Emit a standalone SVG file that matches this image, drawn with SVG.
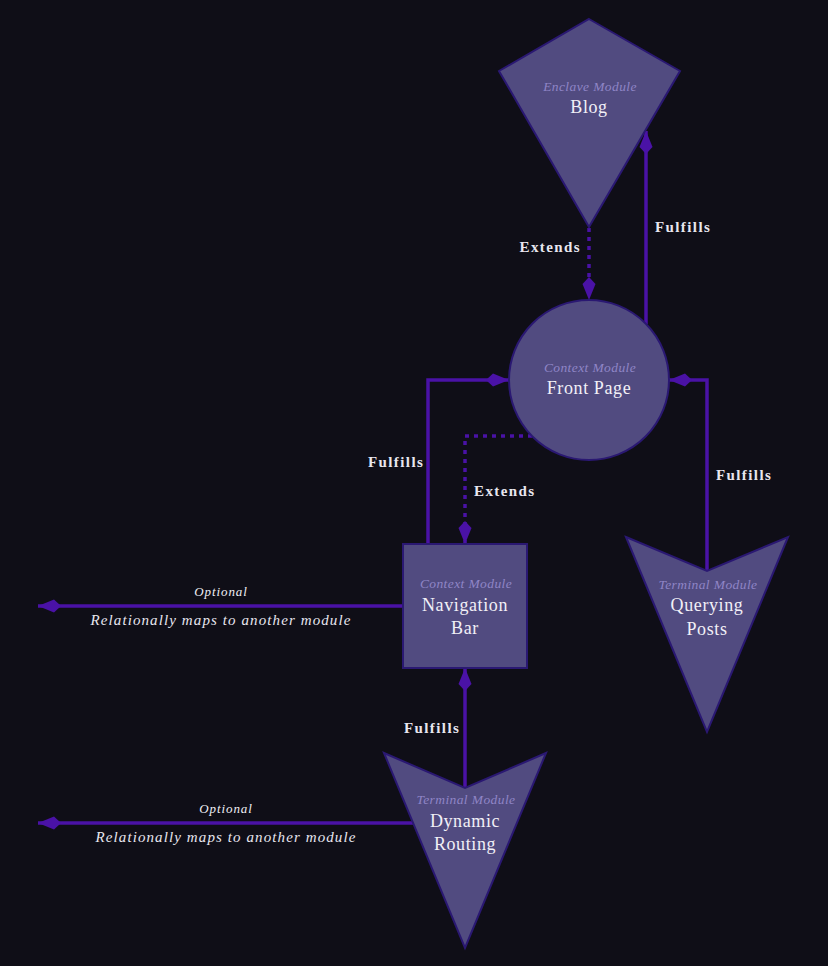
<svg xmlns="http://www.w3.org/2000/svg" width="828" height="966" viewBox="0 0 828 966">
  <defs>
    <marker id="tip" markerUnits="userSpaceOnUse" markerWidth="26" markerHeight="16" refX="23" refY="0" viewBox="-1 -8 26 16" orient="auto">
      <path d="M0,0 L7,-6.5 L23,0 L7,6.5 Z" fill="#4a12a6"/>
    </marker>
    <style>
      .node { fill: #514b80; stroke: #2a1872; stroke-width: 2; }
      .edge { fill: none; stroke: #4a12a6; stroke-width: 3.5; marker-end: url(#tip); }
      .dot { stroke-dasharray: 4 5; }
      .kind { font-family: "Liberation Serif", serif; font-style: italic; font-size: 13.5px; fill: #8f85c6; text-anchor: middle; letter-spacing: 0.4px; }
      .name { font-family: "Liberation Serif", serif; font-size: 18px; fill: #f2f0f7; text-anchor: middle; letter-spacing: 0.6px; }
      .rel { font-family: "Liberation Serif", serif; font-weight: bold; font-size: 15px; fill: #e8e6ef; letter-spacing: 1.4px; }
      .opt { font-family: "Liberation Serif", serif; font-style: italic; font-size: 13px; fill: #f0eef5; text-anchor: middle; letter-spacing: 0.9px; }
      .desc { font-family: "Liberation Serif", serif; font-style: italic; font-size: 15px; fill: #e8e6ef; text-anchor: middle; letter-spacing: 1.1px; }
    </style>
  </defs>
  <rect width="828" height="966" fill="#0f0e17"/>

  <g id="connectors">
    <path class="edge dot" d="M589,228 V300"/>
    <path class="edge" d="M646,324 V131"/>
    <path class="edge" d="M428,544 V380 H509"/>
    <path class="edge dot" d="M532,436 H465 V544"/>
    <path class="edge" d="M707,571 V380 H669"/>
    <path class="edge" d="M403,606 H38"/>
    <path class="edge" d="M465,788 V668"/>
    <path class="edge" d="M413,823 H38"/>
    <text class="rel" x="581" y="252" text-anchor="end">Extends</text>
    <text class="rel" x="655" y="232">Fulfills</text>
    <text class="rel" x="368" y="467">Fulfills</text>
    <text class="rel" x="474" y="496">Extends</text>
    <text class="rel" x="716" y="480">Fulfills</text>
    <text class="rel" x="404" y="733">Fulfills</text>
    <text class="opt" x="221" y="596">Optional</text>
    <text class="desc" x="221" y="625">Relationally maps to another module</text>
    <text class="opt" x="226" y="813">Optional</text>
    <text class="desc" x="226" y="842">Relationally maps to another module</text>
  </g>

  <g id="blog">
    <polygon class="node" points="589,19 680,71 589,227 499,71"/>
    <text class="kind" x="590" y="91">Enclave Module</text>
    <text class="name" x="589" y="113">Blog</text>
  </g>

  <g id="front-page">
    <circle class="node" cx="589" cy="380" r="80"/>
    <text class="kind" x="590" y="372">Context Module</text>
    <text class="name" x="589" y="394">Front Page</text>
  </g>

  <g id="navigation-bar">
    <rect class="node" x="403" y="544" width="124" height="124"/>
    <text class="kind" x="466" y="588">Context Module</text>
    <text class="name" x="465" y="611">Navigation</text>
    <text class="name" x="465" y="634">Bar</text>
  </g>

  <g id="querying-posts">
    <polygon class="node" points="626,537 707,571 788,537 707,732"/>
    <text class="kind" x="708" y="589">Terminal Module</text>
    <text class="name" x="707" y="611">Querying</text>
    <text class="name" x="707" y="635">Posts</text>
  </g>

  <g id="dynamic-routing">
    <polygon class="node" points="384,753 465,788 546,753 465,948"/>
    <text class="kind" x="466" y="804">Terminal Module</text>
    <text class="name" x="465" y="827">Dynamic</text>
    <text class="name" x="465" y="850">Routing</text>
  </g>
</svg>
